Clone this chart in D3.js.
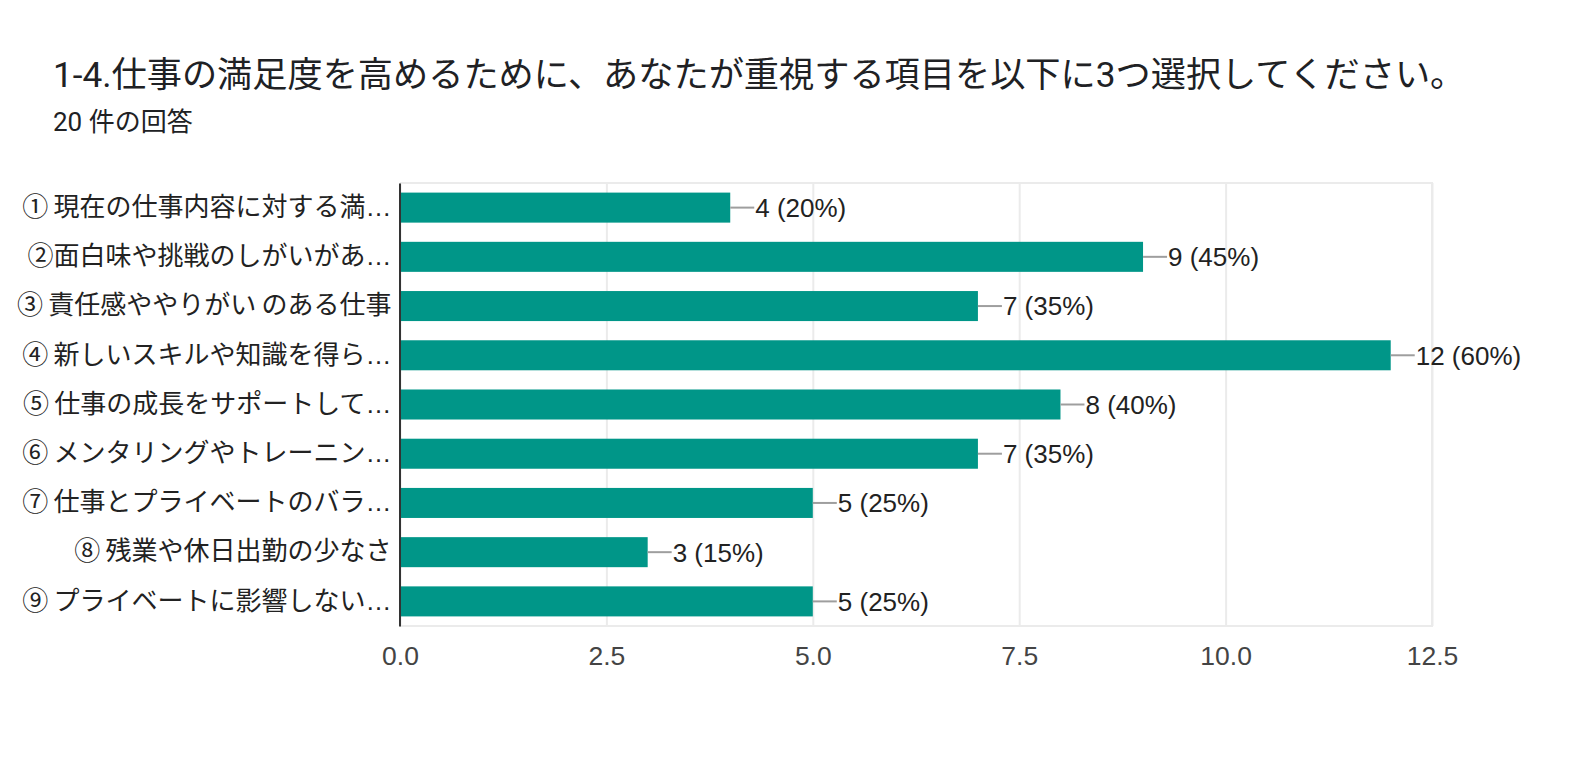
<!DOCTYPE html>
<html>
<head>
<meta charset="utf-8">
<script src="https://cdn.jsdelivr.net/npm/d3@7"></script>
<style>
  html, body { margin: 0; padding: 0; background: #fff; }
  svg { display: block; }
</style>
</head>
<body>
<svg id="chart" width="1595" height="760"></svg>
<script>
const titleText = "1-4.仕事の満足度を高めるために、あなたが重視する項目を以下に3つ選択してください。";
const subtitleText = "20 件の回答";
const categories = [
  "① 現在の仕事内容に対する満…",
  "②面白味や挑戦のしがいがあ…",
  "③ 責任感ややりがい のある仕事",
  "④ 新しいスキルや知識を得ら…",
  "⑤ 仕事の成長をサポートして…",
  "⑥ メンタリングやトレーニン…",
  "⑦ 仕事とプライベートのバラ…",
  "⑧ 残業や休日出勤の少なさ",
  "⑨ プライベートに影響しない…"
];
const counts = [4, 9, 7, 12, 8, 7, 5, 3, 5];
const percents = [20, 45, 35, 60, 40, 35, 25, 15, 25];
const xTicks = [0, 2.5, 5, 7.5, 10, 12.5];

const svg = d3.select("#chart");
const fontLatin = "'Liberation Sans', Arial, 'Noto Sans CJK JP', sans-serif";
const fontTitle = "Roboto, 'Noto Sans CJK JP', sans-serif";

const pLeft = 400, pRight = 1432, pTop = 183, pBottom = 626;

svg.append("text")
  .attr("x", 53).attr("y", 87)
  .attr("font-family", fontTitle).attr("font-size", 35.2)
  .attr("fill", "#202124")
  .text(titleText);

svg.append("text")
  .attr("x", 53).attr("y", 131)
  .attr("font-family", fontTitle).attr("font-size", 26)
  .attr("fill", "#202124")
  .text(subtitleText);

const x = d3.scaleLinear().domain([0, 12.5]).range([pLeft, pRight]);
const y = d3.scaleBand().domain(categories).range([pTop, pBottom])
  .paddingInner(0.39).paddingOuter(0.195);

// gridlines via bottom axis
const xAxis = svg.append("g")
  .attr("transform", `translate(0,${pBottom})`)
  .call(d3.axisBottom(x).tickValues(xTicks).tickFormat(d3.format(".1f"))
    .tickSize(-(pBottom - pTop)).tickSizeOuter(0));
xAxis.select(".domain").remove();
xAxis.selectAll(".tick line").attr("stroke", "#ebebeb").attr("stroke-width", 2);
xAxis.selectAll(".tick text")
  .attr("y", 39).attr("dy", null)
  .attr("font-family", fontLatin).attr("font-size", 26.5)
  .attr("fill", "#444");

// frame
svg.append("path")
  .attr("d", `M${pLeft},${pTop}H${pRight}V${pBottom}H${pLeft}`)
  .attr("fill", "none").attr("stroke", "#ebebeb").attr("stroke-width", 2);

// bars
svg.append("g").selectAll("rect")
  .data(categories)
  .join("rect")
  .attr("x", x(0))
  .attr("y", d => y(d))
  .attr("width", (d, i) => x(counts[i]) - x(0))
  .attr("height", y.bandwidth())
  .attr("fill", "#009688");

// leader lines and labels
const lab = svg.append("g");
lab.selectAll("line")
  .data(categories)
  .join("line")
  .attr("x1", (d, i) => x(counts[i]))
  .attr("x2", (d, i) => x(counts[i]) + 24)
  .attr("y1", d => y(d) + y.bandwidth() / 2)
  .attr("y2", d => y(d) + y.bandwidth() / 2)
  .attr("stroke", "#9e9e9e").attr("stroke-width", 2);
lab.selectAll("text")
  .data(categories)
  .join("text")
  .attr("x", (d, i) => x(counts[i]) + 25)
  .attr("y", d => y(d) + y.bandwidth() / 2)
  .attr("dy", "0.36em")
  .attr("font-family", fontLatin).attr("font-size", 26)
  .attr("fill", "#222")
  .text((d, i) => `${counts[i]} (${percents[i]}%)`);

// y axis
const yAxis = svg.append("g")
  .attr("transform", `translate(${pLeft - 0.5},0)`)
  .call(d3.axisLeft(y).tickSize(0).tickSizeOuter(0).tickPadding(8));
yAxis.select(".domain").attr("stroke", "#333").attr("stroke-width", 2);
yAxis.selectAll(".tick text")
  .attr("font-family", fontLatin).attr("font-size", 26)
  .attr("word-spacing", "-2px")
  .attr("fill", "#222");
</script>
</body>
</html>
